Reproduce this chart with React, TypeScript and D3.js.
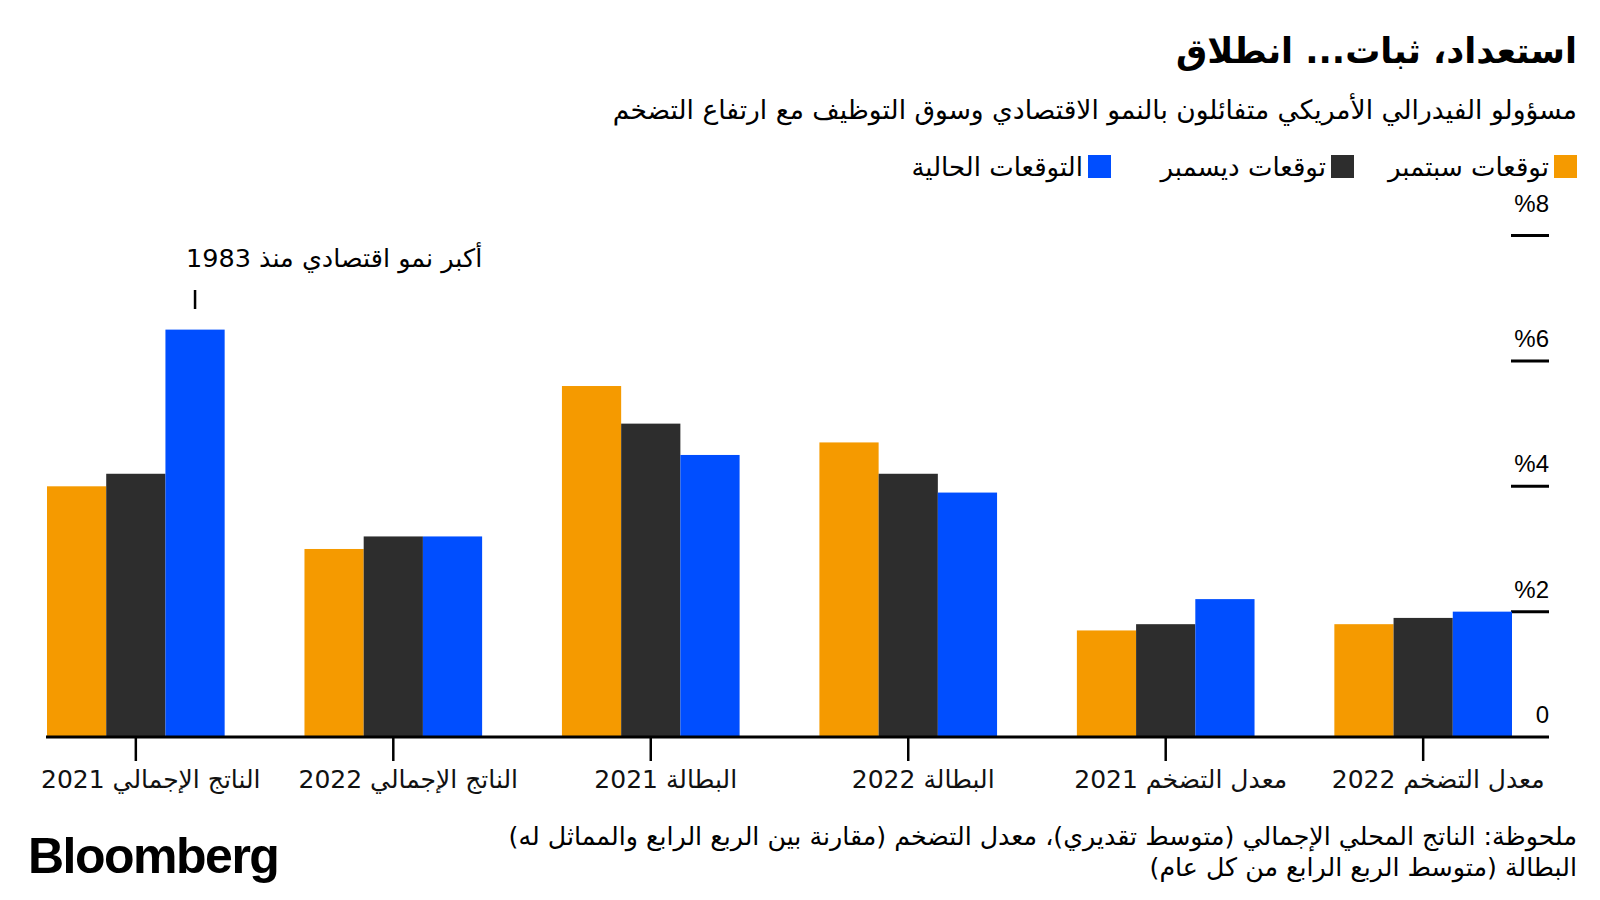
import React from "react";
import * as d3 from "d3";

const categories = [
  "الناتج الإجمالي 2021",
  "الناتج الإجمالي 2022",
  "البطالة 2021",
  "البطالة 2022",
  "معدل التضخم 2021",
  "معدل التضخم 2022",
];
const septValues = [4.0, 3.0, 5.6, 4.7, 1.7, 1.8];
const decValues = [4.2, 3.2, 5.0, 4.2, 1.8, 1.9];
const currentValues = [6.5, 3.2, 4.5, 3.9, 2.2, 2.0];
const seriesNames = ["توقعات سبتمبر", "توقعات ديسمبر", "التوقعات الحالية"];
const seriesColors = ["#F59A00", "#2D2D2D", "#004EFF"];
const yTicks = [0, 2, 4, 6, 8];
const yTickLabels = ["0", "%2", "%4", "%6", "%8"];

const title = "استعداد، ثبات... انطلاق";
const subtitle = "مسؤولو الفيدرالي الأمريكي متفائلون بالنمو الاقتصادي وسوق التوظيف مع ارتفاع التضخم";
const annotation = "أكبر نمو اقتصادي منذ 1983";
const noteLines = [
  "ملحوظة: الناتج المحلي الإجمالي (متوسط تقديري)، معدل التضخم (مقارنة بين الربع الرابع والمماثل له)",
  "البطالة (متوسط الربع الرابع من كل عام)",
];

const AR = "'DejaVu Sans', 'Noto Sans', sans-serif";
const LAT = "'Liberation Sans', Arial, sans-serif";

export default function App() {
  const W = 1600;
  const H = 900;
  const x0 = d3.scaleBand<string>().domain(categories).range([47, 1512]).paddingInner(0.31).paddingOuter(0);
  const x1 = d3.scaleBand<number>().domain([0, 1, 2]).range([0, x0.bandwidth()]);
  const y = d3.scaleLinear().domain([0, 8]).range([737, 235.6]);
  const series = [septValues, decValues, currentValues];

  const annotCat = categories[0];
  const annotX = (x0(annotCat) ?? 0) + (x1(2) ?? 0) + x1.bandwidth() / 2;

  const legendX = [1577, 1354, 1111];

  return (
    <svg width={W} height={H} style={{ position: "absolute", left: 0, top: 0, background: "#fff" }}>
      <rect width={W} height={H} fill="#fff" />
      <text x={1577} y={63} direction="rtl" textAnchor="start" fontFamily={AR} fontWeight={700} fontSize={35} fill="#000">
        {title}
      </text>
      <text x={1577} y={119} direction="rtl" textAnchor="start" fontFamily={AR} fontSize={26.5} fill="#000">
        {subtitle}
      </text>
      {seriesNames.map((n, i) => (
        <g key={n}>
          <rect x={legendX[i] - 23} y={155} width={23} height={23} fill={seriesColors[i]} />
          <text x={legendX[i] - 28} y={176} direction="rtl" textAnchor="start" fontFamily={AR} fontSize={26} fill="#000">
            {n}
          </text>
        </g>
      ))}

      {yTicks.map((t, i) => (
        <g key={t}>
          {t !== 0 && <line x1={1511} x2={1549} y1={y(t)} y2={y(t)} stroke="#000" strokeWidth={3} />}
          <text
            x={1549}
            y={t === 0 ? y(t) - 14 : y(t) - (t === 8 ? 24 : 14)}
            textAnchor="end"
            fontFamily={LAT}
            fontSize={24}
            fill="#000"
          >
            {yTickLabels[i]}
          </text>
        </g>
      ))}

      {categories.map((c, ci) => (
        <g key={c} transform={`translate(${x0(c)},0)`}>
          {series.map((s, si) => (
            <rect
              key={si}
              x={x1(si)}
              y={y(s[ci])}
              width={x1.bandwidth()}
              height={y(0) - y(s[ci])}
              fill={seriesColors[si]}
            />
          ))}
        </g>
      ))}

      <line x1={46} x2={1549} y1={y(0)} y2={y(0)} stroke="#000" strokeWidth={3} />
      {categories.map((c) => {
        const cx = (x0(c) ?? 0) + x0.bandwidth() / 2;
        return (
          <g key={c}>
            <line x1={cx} x2={cx} y1={y(0)} y2={y(0) + 24} stroke="#000" strokeWidth={2.5} />
            <text x={cx + 15} y={788} textAnchor="middle" direction="rtl" fontFamily={AR} fontSize={25} fill="#111">
              {c}
            </text>
          </g>
        );
      })}

      <line x1={annotX} x2={annotX} y1={290} y2={309} stroke="#000" strokeWidth={2.5} />
      <text x={annotX - 9} y={267} direction="rtl" textAnchor="end" fontFamily={AR} fontSize={25.5} fill="#000">
        {annotation}
      </text>

      {noteLines.map((l, i) => (
        <text key={i} x={1577} y={845 + i * 31} direction="rtl" textAnchor="start" fontFamily={AR} fontSize={25.3} fill="#000">
          {l}
        </text>
      ))}

      <text x={28} y={873} fontFamily={LAT} fontWeight={700} fontSize={50} letterSpacing={-1.5} fill="#000">
        Bloomberg
      </text>
    </svg>
  );
}
